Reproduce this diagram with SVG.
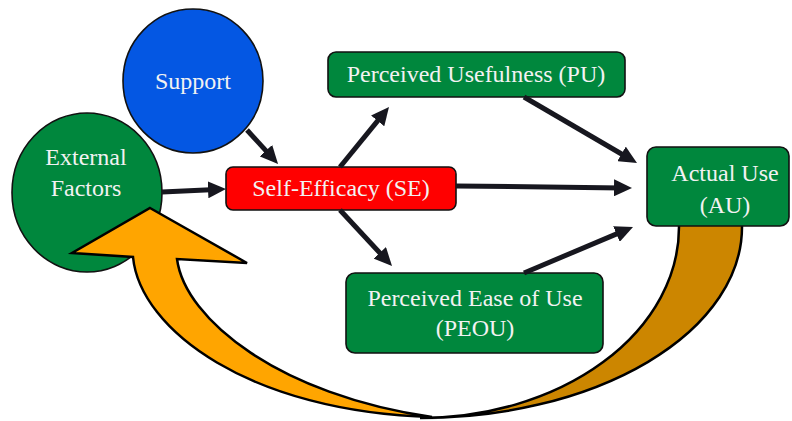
<svg xmlns="http://www.w3.org/2000/svg" width="792" height="421" viewBox="0 0 792 421">
<style>
.lbl{font-family:"Liberation Serif","DejaVu Serif",serif;font-size:24px;fill:#f2f2f2;text-anchor:middle}
.box{fill:#00873d;stroke:#111;stroke-width:1.6}
.conn{stroke:#17171f;stroke-width:5;fill:none;marker-end:url(#ah)}
.band{stroke:#000;stroke-width:2.5;stroke-linejoin:miter}
</style>
<defs>
<marker id="ah" viewBox="-8 -8.5 18 17" refX="0" refY="0" markerWidth="18" markerHeight="17" markerUnits="userSpaceOnUse" orient="auto">
<path d="M-8,-8.5 L10,0 L-8,8.5 Z" fill="#17171f"/>
</marker>
</defs>
<rect width="792" height="421" fill="#fff"/>
<g id="external-factors">
<ellipse cx="87" cy="192.5" rx="75" ry="79.5" fill="#00873d" stroke="#111" stroke-width="1.6"/>
<text class="lbl" x="86" y="165">External</text>
<text class="lbl" x="86" y="196">Factors</text>
</g>
<g id="feedback-arrow">
<path class="band" fill="#cc8600" d="M679,222 L742,222 L742,227 A322,191 0 0 1 420,418 A259,191 0 0 0 679,227 Z"/>
<path class="band" fill="#ffa500" d="M150,208 L247,263 L177,259 C185,320 280,395 432,417 C250,412 140,330 133,257 L72,253 Z"/>
</g>
<g id="support">
<ellipse cx="193" cy="81" rx="70" ry="72" fill="#0457e3" stroke="#111" stroke-width="1.6"/>
<text class="lbl" x="193" y="89">Support</text>
</g>
<g id="self-efficacy">
<rect x="226" y="167" width="230" height="43" rx="7" fill="#ff0000" stroke="#111" stroke-width="1.6"/>
<text class="lbl" x="341" y="196">Self-Efficacy (SE)</text>
</g>
<g id="perceived-usefulness">
<rect class="box" x="328" y="52" width="297" height="45" rx="8"/>
<text class="lbl" x="476" y="82">Perceived Usefulness (PU)</text>
</g>
<g id="perceived-ease-of-use">
<rect class="box" x="346" y="273" width="257" height="80" rx="9"/>
<text class="lbl" x="475" y="306">Perceived Ease of Use</text>
<text class="lbl" x="475" y="336">(PEOU)</text>
</g>
<g id="actual-use">
<rect class="box" x="647" y="147" width="142" height="79" rx="9"/>
<text class="lbl" x="725" y="181">Actual Use</text>
<text class="lbl" x="725" y="213">(AU)</text>
</g>
<g id="connectors">
<line class="conn" x1="247" y1="130" x2="271.3" y2="156.6"/>
<line class="conn" x1="162" y1="192" x2="216" y2="189.4"/>
<line class="conn" x1="340" y1="167" x2="382.7" y2="114.7"/>
<line class="conn" x1="340" y1="210" x2="385.2" y2="258.7"/>
<line class="conn" x1="456" y1="186" x2="622" y2="187.9"/>
<line class="conn" x1="524" y1="97" x2="628.4" y2="158"/>
<line class="conn" x1="524" y1="273" x2="623.8" y2="230.9"/>
</g>
</svg>
